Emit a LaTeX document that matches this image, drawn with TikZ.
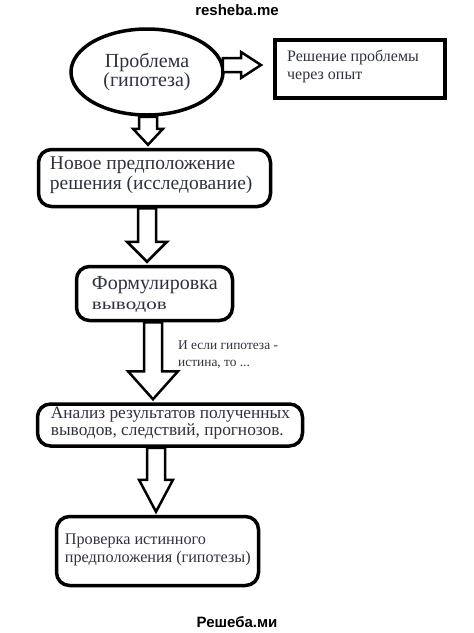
\documentclass[tikz,border=0pt]{standalone}
\usepackage{fontspec}
\setmainfont{Liberation Serif}
\newfontfamily\wmfont{Liberation Sans}
\usetikzlibrary{shapes}
\usetikzlibrary{positioning}
\usetikzlibrary{calc}
\definecolor{txtgray}{RGB}{45,50,62}
% block arrow down: x, from, to, head length, head half width
\newcommand{\vblock}[5]{%
  \draw[barrow] let \p1=(#2), \p2=(#3) in
    (#1-9pt,\y1) -- (#1-9pt,\y2+3pt+#4) -- (#1-#5,\y2+3pt+#4) -- (#1,\y2+3pt)
    -- (#1+#5,\y2+3pt+#4) -- (#1+9pt,\y2+3pt+#4) -- (#1+9pt,\y1) -- cycle;}
% block arrow right: y, from, to
\newcommand{\hblock}[3]{%
  \draw[barrow] let \p1=(#2), \p2=(#3) in
    (\x1-2pt,#1+7pt) -- (\x2-20pt,#1+7pt) -- (\x2-20pt,#1+13pt) -- (\x2,#1)
    -- (\x2-20pt,#1-13pt) -- (\x2-20pt,#1-7pt) -- (\x1-2pt,#1-7pt) -- cycle;}

\begin{document}
\begin{tikzpicture}[x=1pt,y=-1pt]
\tikzstyle{frame}=[draw=black,line width=3.5pt,rounded corners=13pt,inner sep=0pt]
\tikzstyle{txt}=[anchor=north west,inner sep=0pt,align=left,text=txtgray]
\tikzstyle{barrow}=[draw=black,line width=2.5pt,fill=white,line join=miter]
\tikzstyle{wm}=[font=\wmfont\bfseries\fontsize{15}{15}\selectfont,inner sep=0pt]
\useasboundingbox (0,0) rectangle (474,633);

\node[wm] (head) at (237,10) {resheba.me};
\node[wm] (foot) at (237,622) {Решеба.ми};

% problem and experiment
\node[draw=black,ellipse,line width=3.5pt,minimum width=152pt,minimum height=86pt,
      inner sep=0pt,align=center,text=txtgray,font=\fontsize{20}{19}\selectfont]
      (P) at (147,72) {Проблема\\(гипотеза)};
\node[draw=black,line width=4pt,minimum width=170pt,minimum height=58pt] (R) at (360,69) {};
\node[txt,font=\fontsize{16}{18}\selectfont] (Rt) at ([shift={(14,12)}]R.north west)
      {Решение проблемы\\через опыт};
\coordinate (Rin) at ([xshift=-12pt]R.west);

% steps
\node[frame,minimum width=232pt,minimum height=57pt] (N2) at (154.5,178) {};
\node[txt,font=\fontsize{19.5}{19.5}\selectfont] (T2) at ([shift={(13,9)}]N2.north west)
      {Новое предположение\\решения (исследование)};

\node[frame,minimum width=156pt,minimum height=54pt] (N3) at (154.5,293.5) {};
\node[txt,font=\fontsize{20}{20}\selectfont] (T3) at ([shift={(17,11)}]N3.north west)
      {Формулировка\\\scalebox{1.05}[0.8]{выводов}};

\node[txt,font=\fontsize{13.4}{17}\selectfont] (If) at (178,341)
      {И если гипотеза -\\истина, то ...};

\node[frame,minimum width=265pt,minimum height=42pt] (N4) at (170,425) {};
\node[txt,font=\fontsize{17.3}{16.5}\selectfont] (T4) at ([shift={(15,5)}]N4.north west)
      {Анализ результатов полученных\\выводов, следствий, прогнозов.};

\node[frame,minimum width=202pt,minimum height=69pt] (N5) at (157.5,551) {};
\node[txt,font=\fontsize{16.2}{18}\selectfont] (T5) at ([shift={(10,19)}]N5.north west)
      {Проверка истинного\\предположения (гипотезы)};

% arrows
\hblock{-65pt}{P.east}{Rin}
\vblock{148pt}{P.south}{N2.north}{16pt}{15pt}
\vblock{147pt}{N2.south}{N3.north}{20pt}{20pt}
\vblock{153pt}{N3.south}{N4.north}{28pt}{25pt}
\vblock{156pt}{N4.south}{N5.north}{32pt}{17pt}
\end{tikzpicture}
\end{document}
